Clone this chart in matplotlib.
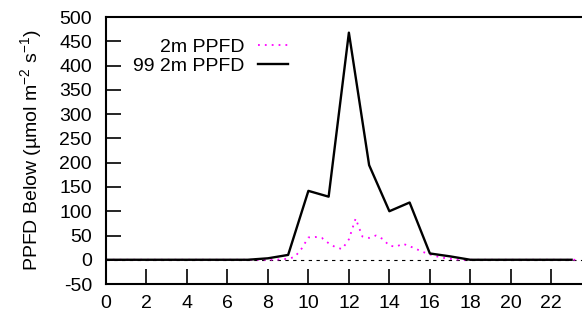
import numpy as np
import matplotlib
matplotlib.use("Agg")
import matplotlib.pyplot as plt

plt.rcParams['font.family'] = ['Liberation Sans', 'DejaVu Sans']
plt.rcParams['axes.unicode_minus'] = False
plt.rcParams['mathtext.fontset'] = 'custom'
plt.rcParams['mathtext.rm'] = 'Liberation Sans'
plt.rcParams['mathtext.default'] = 'regular'

# hourly series (99 2m PPFD)
hours = list(range(24))
ppfd_99 = [0, 0, 0, 0, 0, 0, 0, 0, 3, 10, 142, 130, 468, 195, 100, 118,
           13, 7, 0, 0, 0, 0, 0, 0]

# 20-minute series (2m PPFD)
t_2m = [i / 3 for i in range(71)]
ppfd_2m = [0] * 26 + [1, 2, 6, 23, 46, 47, 45, 34, 26, 22, 42, 85, 48, 45,
                      50, 43, 29, 27, 33, 28, 22, 16, 11, 7, 4, 2, 0.5] + [0] * 18

xticks = list(range(0, 23, 2))
yticks = list(range(-50, 501, 50))

fig = plt.figure(figsize=(5.82, 3.17), dpi=100)
ax = fig.add_axes([0.182, 0.104, 0.8175, 0.842])

ax.axhline(0, color='black', lw=0.8, ls=(0, (3, 4)))
ax.plot(t_2m, ppfd_2m, color='#ff00ff', lw=1.3, ls=(0, (1, 2.8)), label='2m PPFD')
ax.plot(hours, ppfd_99, color='black', lw=1.7, label='99 2m PPFD')

ax.set_xlim(0, 23.5)
ax.set_ylim(-50, 500)
ax.set_xticks(xticks)
ax.set_yticks(yticks)
ax.tick_params(direction='in', length=11, width=1.2, labelsize=14, pad=10)
ax.tick_params(axis='x', pad=8)
for s in ['left', 'bottom', 'top']:
    ax.spines[s].set_linewidth(1.5)
ax.spines['right'].set_visible(False)

ax.set_ylabel('PPFD Below (µmol m$^{-2}$ s$^{-1}$)', fontsize=14, labelpad=11)

ax.legend(loc='upper right', bbox_to_anchor=(288 / 582, 279 / 317),
          bbox_transform=fig.transFigure, frameon=False, markerfirst=False,
          fontsize=14, handlelength=1.55, labelspacing=0.08,
          handletextpad=0.67, borderpad=0, borderaxespad=0)

fig.savefig('out.png', dpi=100)
